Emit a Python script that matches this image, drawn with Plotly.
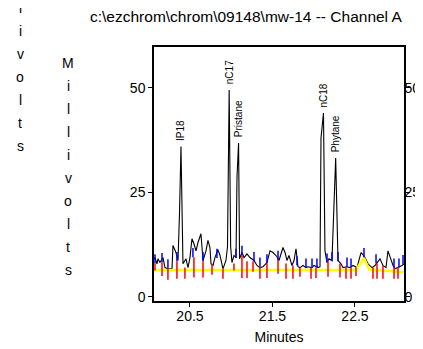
import plotly.graph_objects as go

# ---------------- data ----------------
times = [20.064, 20.076, 20.100, 20.112, 20.136, 20.173, 20.197, 20.233, 20.282, 20.294,
         20.330, 20.355, 20.373, 20.391, 20.409, 20.415, 20.452, 20.476, 20.500, 20.524,
         20.548, 20.573, 20.597, 20.633, 20.658, 20.694, 20.718, 20.742, 20.755, 20.779,
         20.803, 20.839, 20.864, 20.900, 20.936, 20.955, 20.975, 20.993, 21.009, 21.033,
         21.058, 21.070, 21.089, 21.101, 21.130, 21.155, 21.191, 21.227, 21.276, 21.312,
         21.348, 21.385, 21.433, 21.470, 21.506, 21.555, 21.579, 21.627, 21.652, 21.676,
         21.700, 21.736, 21.761, 21.785, 21.809, 21.833, 21.870, 21.906, 21.930, 21.979,
         22.003, 22.052, 22.076, 22.088, 22.118, 22.136, 22.161, 22.185, 22.221, 22.266,
         22.294, 22.330, 22.355, 22.403, 22.439, 22.476, 22.524, 22.573, 22.597, 22.621,
         22.658, 22.706, 22.742, 22.767, 22.803, 22.839, 22.876, 22.900, 22.924, 22.961,
         22.985, 23.021, 23.070, 23.094]
millivolts = [9.0, 9.4, 7.9, 9.1, 8.2, 9.4, 7.0, 6.7, 6.7, 12.3,
              10.6, 8.7, 20.0, 36.0, 15.0, 7.9, 9.1, 7.0, 9.4, 13.9,
              12.7, 11.0, 13.0, 15.1, 8.7, 11.0, 13.5, 11.8, 7.9, 7.5,
              9.4, 11.3, 9.9, 6.7, 8.7, 12.0, 49.5, 12.0, 8.2, 9.9,
              9.4, 28.6, 36.8, 9.1, 10.6, 9.4, 10.3, 9.4, 8.7, 7.5,
              7.0, 7.2, 8.2, 11.0, 10.6, 9.6, 8.7, 11.8, 10.6, 8.7,
              9.9, 7.5, 8.7, 11.5, 7.2, 7.0, 7.5, 7.0, 7.2, 7.0,
              7.5, 7.0, 7.2, 38.0, 44.0, 11.0, 8.2, 9.1, 8.7, 33.2,
              8.7, 7.9, 7.0, 7.2, 7.0, 7.5, 7.0, 10.6, 10.1, 9.4,
              7.9, 7.0, 7.5, 8.2, 9.1, 7.5, 7.0, 11.0, 9.6, 7.5,
              6.7, 7.0, 7.5, 7.9]

baseline_times = [20.064, 22.512, 22.609, 22.670, 23.094]
baseline_mv = [6.4, 6.5, 9.3, 6.6, 5.9]

blue_times = [20.076, 20.161, 20.233, 20.342, 20.536, 20.658, 20.827, 21.058, 21.130,
              21.276, 21.348, 21.433, 21.567, 21.797, 21.906, 21.979, 22.039, 22.161,
              22.221, 22.294, 22.403, 22.452, 22.609, 22.755, 22.973, 23.033, 23.082]
blue_levels = [8.0, 8.3, 6.8, 8.5, 9.5, 8.5, 9.3, 9.3, 10.0,
               8.5, 7.2, 8.0, 8.8, 7.5, 7.0, 7.0, 7.0, 8.2,
               8.5, 8.5, 7.2, 7.0, 9.5, 8.0, 7.0, 7.0, 7.8]

red_times = [20.076, 20.161, 20.233, 20.342, 20.439, 20.548, 20.658, 20.767, 20.900,
             21.033, 21.130, 21.191, 21.264, 21.348, 21.433, 21.567, 21.664, 21.748,
             21.833, 21.967, 22.027, 22.173, 22.318, 22.391, 22.452, 22.512, 22.718,
             22.767, 22.839, 22.973, 23.021]
red_tops = [8.0, 8.3, 6.8, 8.5, 7.0, 9.5, 8.5, 7.9, 6.7,
            8.0, 10.0, 8.5, 8.5, 7.2, 8.0, 8.8, 8.0, 7.5,
            7.0, 7.0, 7.0, 8.5, 7.9, 7.2, 7.0, 7.0, 7.0,
            8.0, 7.5, 7.0, 7.0]
red_bottoms = [6.3, 5.0, 4.1, 4.3, 4.3, 4.6, 4.6, 5.3, 4.3,
               6.3, 4.5, 4.5, 6.0, 4.3, 4.5, 5.5, 4.3, 4.3,
               4.8, 4.3, 4.5, 4.8, 4.6, 4.3, 4.3, 5.0, 4.3,
               4.3, 4.3, 4.3, 4.3]

peak_names = ["IP18", "nC17", "Pristane", "nC18", "Phytane"]
peak_times = [20.391, 20.975, 21.089, 22.118, 22.266]
peak_heights = [36.0, 49.5, 36.8, 44.0, 33.2]

x_ticks = [20.5, 21.5, 22.5]
x_tick_labels = ["20.5", "21.5", "22.5"]
y_ticks = [0, 25, 50]
y_tick_labels = ["0", "25", "50"]

title_text = "c:\\ezchrom\\chrom\\09148\\mw-14 -- Channel A"
y_title = "Millivolts"

# ---------------- figure ----------------
FONT = "Liberation Sans, Arial, sans-serif"
BLUE_LEN = 2.2

fig = go.Figure()
fig.add_trace(go.Scatter(x=times, y=millivolts, mode="lines",
                         line=dict(color="black", width=1.1), hoverinfo="skip"))
fig.add_trace(go.Scatter(x=baseline_times, y=baseline_mv, mode="lines",
                         line=dict(color="#ffff00", width=2.5), hoverinfo="skip"))

bx, by = [], []
for t, lv in zip(blue_times, blue_levels):
    bx += [t, t, None]
    by += [lv, lv + BLUE_LEN, None]
fig.add_trace(go.Scatter(x=bx, y=by, mode="lines",
                         line=dict(color="#0000ff", width=1.5), hoverinfo="skip"))

rx, ry = [], []
for t, top, bot in zip(red_times, red_tops, red_bottoms):
    rx += [t, t, None]
    ry += [top, bot, None]
fig.add_trace(go.Scatter(x=rx, y=ry, mode="lines",
                         line=dict(color="#ff0000", width=1.5), hoverinfo="skip"))

# dummy trace for right axis
fig.add_trace(go.Scatter(x=[None], y=[None], yaxis="y2", showlegend=False, hoverinfo="skip"))

for name, t, h in zip(peak_names, peak_times, peak_heights):
    fig.add_annotation(x=t, y=h, text=name, showarrow=False, textangle=-90,
                       xanchor="center", yanchor="bottom", yshift=4,
                       font=dict(family=FONT, size=10, color="black"))

# title
fig.add_annotation(xref="paper", yref="paper", x=1.004, y=1.122, text=title_text,
                   showarrow=False, xanchor="right", yanchor="middle",
                   font=dict(family=FONT, size=15.5, color="black"))

# stacked axis titles
PLOT_H = 254.0
PLOT_W = 250.0
for i, ch in enumerate(y_title):
    ypx = 63 + i * 23
    fig.add_annotation(xref="paper", yref="paper", x=(68 - 154) / PLOT_W,
                       y=(301 - ypx) / PLOT_H, text=ch, showarrow=False,
                       xanchor="center", yanchor="middle",
                       font=dict(family=FONT, size=14, color="black"))
    ypx2 = -61 + i * 23
    fig.add_annotation(xref="paper", yref="paper", x=(20 - 154) / PLOT_W,
                       y=(301 - ypx2) / PLOT_H, text=ch, showarrow=False,
                       xanchor="center", yanchor="middle",
                       font=dict(family=FONT, size=14, color="black"))

axis_common = dict(showgrid=False, zeroline=False, showline=True, linecolor="#000000",
                   linewidth=1.5, ticks="outside", ticklen=4, tickcolor="#000000",
                   tickwidth=1.2, automargin=False,
                   tickfont=dict(family=FONT, size=14, color="black"))

# page body has an 8px margin, so the figure is offset by (8, 8) in the window
fig.update_layout(
    width=423, height=349,
    margin=dict(l=146, r=27, t=39, b=56, autoexpand=False),
    plot_bgcolor="white", paper_bgcolor="white",
    showlegend=False,
    xaxis=dict(range=[20.064, 23.094], tickvals=x_ticks, ticktext=x_tick_labels,
               mirror=True, ticklabelstandoff=-3,
               title=dict(text="Minutes", font=dict(family=FONT, size=14, color="black"),
                          standoff=10),
               **axis_common),
    yaxis=dict(range=[-1.0, 59.8], tickvals=y_ticks, ticktext=y_tick_labels,
               **axis_common),
    yaxis2=dict(range=[-1.0, 59.8], tickvals=y_ticks, ticktext=y_tick_labels,
                overlaying="y", side="right", ticklabelstandoff=-8, **axis_common),
)

fig.write_html("out.html")
